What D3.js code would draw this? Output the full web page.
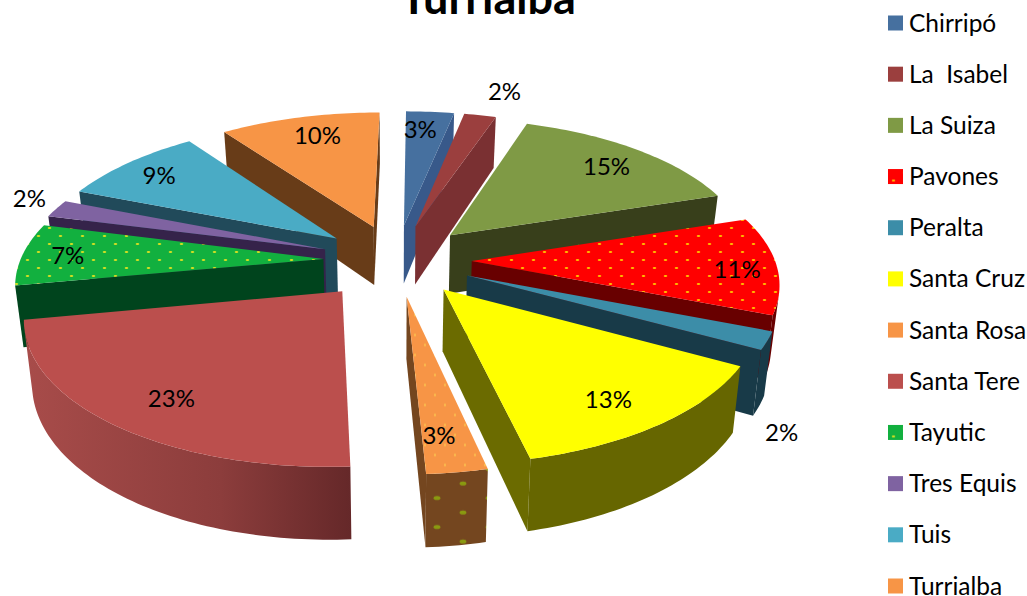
<!DOCTYPE html>
<html>
<head>
<meta charset="utf-8">
<script src="https://cdn.jsdelivr.net/npm/d3@7"></script>
<style>
    body { margin: 0; background: #fff; overflow: hidden; }
    text { font-family: Lato, "Open Sans", sans-serif; fill: #000; white-space: pre; }
</style>
</head>
<body>
<div id="chart"></div>
<script>
// DATA
const names = ['Chirripó', 'La  Isabel', 'La Suiza', 'Pavones', 'Peralta', 'Santa Cruz', 'Santa Rosa', 'Santa Tere', 'Tayutic', 'Tres Equis', 'Tuis', 'Turrialba'];
const shares = [3, 2, 15, 11, 2, 13.4, 2.7, 23, 7, 2, 9, 10];

// STYLE
const topFill = ['#46709f', '#9b3f3e', '#7f9a45', 'url(#dotsRed)', '#3c8da8', '#ffff00', 'url(#dotsOrange)', '#bb4f4d', 'url(#dotsGreen)', '#7f63a1', '#4aabc5', '#f79546'];
const legendFill = ['#46709f', '#9b3f3e', '#7f9a45', 'url(#dotsRed)', '#3c8da8', '#ffff00', '#f79546', '#bb4f4d', 'url(#dotsGreen)', '#7f63a1', '#4aabc5', '#f79546'];
const wallFill = ['#38598a', '#7a3032', '#383f1b', '#680000', '#183a48', '#6b6b00', '#74461f', '#a04846', '#00441d', '#35234a', '#214a5a', '#683c18'];
const rimFill = ['#38598a', '#7a3032', '#383f1b', '#680000', '#183a48', '#666600', 'url(#dotsBrown)', 'url(#rimTere)', '#00441d', '#35234a', '#214a5a', '#683c18'];
// pull of each slice away from the middle
const pull = [0.256, 0.256, 0.256, 0.25, 0.256, 0.256, 0.256, 0.275, 0.24, 0.25, 0.256, 0.256];
// label offset from the projected slice middle
const labelNudge = [[-4, -8], [39, -49], [13, -3], [37, 5], [93, 109], [7, 13], [-4, 13], [-5, 10], [-30, 0], [-92, -20], [-18, -5], [1, -7]];

// CONSTANT
const chartWidth = 1027;
const chartHeight = 596;
const cx = 396;
const cy = 260;
const persp = 0.145;
const shear = -0.012;
const wallHeight = 60;
const wallShrink = 0.978;
const x = d3.scaleLinear().domain([-1, 1]).range([-303, 303]);
const y = d3.scaleLinear().domain([-1, 1]).range([-140, 140]);
const legendY = d3.scalePoint().domain(names).range([23, 586]);
const outline = d3.line().curve(d3.curveLinearClosed);

const pie = d3.pie().sort(null).value(d => d);
const slices = pie(shares).map((d, i) => ({...d, i, mid: (d.startAngle + d.endAngle) / 2}));

// ground plane to screen, angle runs clockwise from north
function upper(d, r, a) {
    const e = pull[d.i];
    const u = e * Math.sin(d.mid) + r * Math.sin(a);
    const v = -e * Math.cos(d.mid) - r * Math.cos(a);
    const k = 1 / (1 - persp * v);
    return [cx + x(u + shear * v) * k, cy + y(v) * k, k];
}
function lower(d, r, a) {
    const p = upper(d, r, a);
    return [cx + (p[0] - cx) * wallShrink, p[1] + wallHeight * p[2]];
}
const flat = p => [p[0], p[1]];

const svg = d3.select('#chart').append('svg')
    .attr('width', chartWidth)
    .attr('height', chartHeight)
    .style('display', 'block');
const defs = svg.append('defs');

function dots(id, bg, dot, w, h, dw, dh, shift) {
    const p = defs.append('pattern')
        .attr('id', id)
        .attr('patternUnits', 'userSpaceOnUse')
        .attr('patternTransform', `translate(${shift || '0,0'})`)
        .attr('width', w)
        .attr('height', h);
    p.append('rect').attr('width', w).attr('height', h).attr('fill', bg);
    [[w / 4, h / 4], [w * 3 / 4, h * 3 / 4]].forEach(c => {
        p.append('ellipse')
            .attr('cx', c[0]).attr('cy', c[1])
            .attr('rx', dw).attr('ry', dh)
            .attr('fill', dot);
    });
}
dots('dotsRed', '#ff0000', '#ffc000', 22, 16, 1.8, 1.1);
dots('dotsGreen', '#12b03f', '#d8e020', 22, 16, 1.8, 1.1);
dots('dotsOrange', '#f79546', '#ffd050', 20, 20, 0.6, 1.7);
dots('dotsBrown', '#74461f', '#8a9a10', 52, 29, 3.4, 2, '8,-2.25');

const rimTere = defs.append('linearGradient').attr('id', 'rimTere');
rimTere.append('stop').attr('offset', 0).attr('stop-color', '#a84c4a');
rimTere.append('stop').attr('offset', 0.6).attr('stop-color', '#8c3d3c');
rimTere.append('stop').attr('offset', 1).attr('stop-color', '#652829');

// back slices first
const order = slices.slice().sort((a, b) => Math.cos(b.mid) - Math.cos(a.mid));

order.forEach(d => {
    const g = svg.append('g').attr('class', 'slice');
    const a0 = d.startAngle;
    const a1 = d.endAngle;

    const walls = [
        {
            fill: wallFill[d.i],
            pts: [upper(d, 0, 0), upper(d, 1, a0), lower(d, 1, a0), lower(d, 0, 0)]
        },
        {
            fill: wallFill[d.i],
            pts: [upper(d, 1, a1), upper(d, 0, 0), lower(d, 0, 0), lower(d, 1, a1)]
        }
    ];

    // outer wall, only the run of steps that faces the viewer
    const steps = Math.ceil((a1 - a0) / 0.02);
    const angles = d3.range(steps + 1).map(s => a0 + (a1 - a0) * s / steps);
    const facing = d3.range(steps).filter(s => d3.polygonArea([
        upper(d, 1, angles[s]), upper(d, 1, angles[s + 1]), lower(d, 1, angles[s + 1]), lower(d, 1, angles[s])
    ].map(flat)) > 0);
    if (facing.length) {
        const run = angles.slice(facing[0], facing[facing.length - 1] + 2);
        walls.push({
            fill: rimFill[d.i],
            pts: [...run.map(a => upper(d, 1, a)), ...run.slice().reverse().map(a => lower(d, 1, a))]
        });
    }

    g.selectAll('path.wall')
        .data(walls.filter(w => d3.polygonArea(w.pts.map(flat)) > 0))
        .enter().append('path')
        .attr('class', 'wall')
        .attr('d', w => outline(w.pts.map(flat)))
        .attr('fill', w => w.fill);

    g.append('path')
        .attr('class', 'face')
        .attr('d', outline([flat(upper(d, 0, 0)), ...angles.map(a => flat(upper(d, 1, a)))]))
        .attr('fill', topFill[d.i]);
});

svg.append('g')
    .selectAll('text')
    .data(slices)
    .enter().append('text')
    .attr('transform', d => {
        const p = upper(d, 0.75, d.mid);
        return `translate(${p[0] + labelNudge[d.i][0]},${p[1] + labelNudge[d.i][1]})`;
    })
    .attr('text-anchor', 'middle')
    .attr('dy', '0.35em')
    .attr('font-size', 24)
    .text(d => `${Math.round(d.data)}%`);

svg.append('text')
    .attr('x', 488)
    .attr('y', 14)
    .attr('text-anchor', 'middle')
    .attr('font-size', 45)
    .attr('font-weight', 700)
    .text('Turrialba');

const legend = svg.append('g')
    .selectAll('g')
    .data(names)
    .enter().append('g')
    .attr('transform', d => `translate(888,${legendY(d)})`);
legend.append('rect')
    .attr('y', -7.5)
    .attr('width', 15)
    .attr('height', 15)
    .attr('fill', (d, i) => legendFill[i]);
legend.append('text')
    .attr('x', 21)
    .attr('dy', '0.35em')
    .attr('font-size', 24.5)
    .text(d => d);
</script>
</body>
</html>
